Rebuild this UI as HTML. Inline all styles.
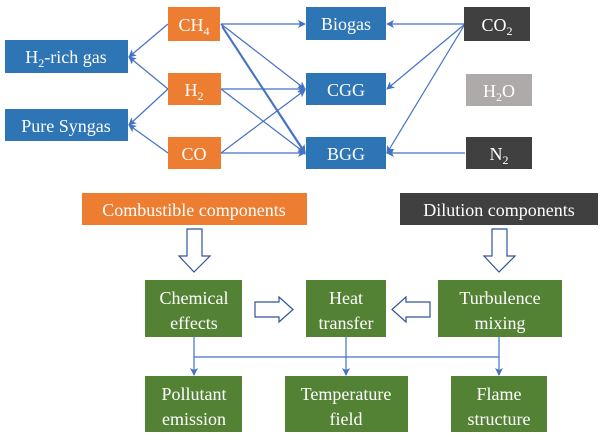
<!DOCTYPE html>
<html><head><meta charset="utf-8"><style>
body{margin:0;background:#fff;}
.t text{font-family:"Liberation Serif","Times New Roman","DejaVu Serif",serif;}
</style></head><body>
<svg width="600" height="441" viewBox="0 0 600 441" xmlns="http://www.w3.org/2000/svg">
<defs>
<marker id="a" markerWidth="8" markerHeight="8" refX="7" refY="4" orient="auto" markerUnits="userSpaceOnUse">
<path d="M0,0 L8,4 L0,8 L2,4 Z" fill="#4472C4"/></marker>
</defs>
<g stroke="#4472C4" stroke-width="1.2" fill="none" marker-end="url(#a)">
<line x1="168" y1="24" x2="129" y2="57"/>
<line x1="168" y1="89" x2="129" y2="57"/>
<line x1="168" y1="89" x2="129" y2="125"/>
<line x1="168" y1="153" x2="129" y2="125"/>
<line x1="221" y1="24" x2="305" y2="24"/>
<line x1="221" y1="24" x2="305" y2="89"/>
<line x1="221" y1="24" x2="305" y2="152"/>
<line x1="222" y1="27" x2="305" y2="154"/>
<line x1="221" y1="89" x2="305" y2="89"/>
<line x1="221" y1="89" x2="305" y2="153"/>
<line x1="221" y1="153" x2="305" y2="90"/>
<line x1="221" y1="153" x2="305" y2="153"/>
<line x1="465" y1="24" x2="387" y2="24"/>
<line x1="465" y1="24" x2="387" y2="89"/>
<line x1="465" y1="24" x2="387" y2="153"/>
<line x1="465" y1="153" x2="387" y2="153"/>
<line x1="194" y1="337" x2="194" y2="375"/>
<line x1="346" y1="337" x2="346" y2="375"/>
<line x1="499" y1="337" x2="499" y2="375"/>
</g>
<line x1="194" y1="357" x2="499" y2="357" stroke="#4472C4" stroke-width="1.2"/>
<g stroke="none">
<rect x="168" y="7" width="52" height="34" fill="#ED7D31"/>
<rect x="168" y="73" width="53" height="32" fill="#ED7D31"/>
<rect x="168" y="137" width="53" height="32" fill="#ED7D31"/>
<rect x="306" y="7" width="80" height="33" fill="#2E75B6"/>
<rect x="306" y="73" width="80" height="32" fill="#2E75B6"/>
<rect x="306" y="137" width="80" height="32" fill="#2E75B6"/>
<rect x="5" y="40" width="123" height="33" fill="#2E75B6"/>
<rect x="5" y="109" width="123" height="32" fill="#2E75B6"/>
<rect x="464" y="7" width="66" height="34" fill="#404040"/>
<rect x="466" y="74" width="66" height="32" fill="#AEAAAA"/>
<rect x="466" y="137" width="66" height="32" fill="#404040"/>
<rect x="82" y="193" width="225" height="32" fill="#ED7D31"/>
<rect x="400" y="193" width="198" height="32" fill="#404040"/>
<rect x="145" y="280" width="97" height="57" fill="#548235"/>
<rect x="306" y="280" width="80" height="57" fill="#548235"/>
<rect x="438" y="280" width="124" height="57" fill="#548235"/>
<rect x="145" y="376" width="97" height="56" fill="#548235"/>
<rect x="285" y="376" width="123" height="56" fill="#548235"/>
<rect x="451" y="376" width="96" height="56" fill="#548235"/>
</g>
<g fill="#fff" stroke="#2F5597" stroke-width="1.2">
<path d="M187,229 H202 V256 H210 L194,272 L179,256 H187 Z"/>
<path d="M492,229 H507 V256 H515 L499,272 L484,256 H492 Z"/>
<path d="M255,302 H279 V297 L293,309.5 L279,322 V317 H255 Z"/>
<path d="M430,302 H406 V297 L392,309.5 L406,322 V317 H430 Z"/>
</g>
<g class="t" font-size="18" fill="#fff" text-anchor="middle">
<text x="194" y="31">CH<tspan font-size="12" dy="4">4</tspan></text>
<text x="194" y="96">H<tspan font-size="12" dy="4">2</tspan></text>
<text x="194" y="160">CO</text>
<text x="346" y="30">Biogas</text>
<text x="346" y="96">CGG</text>
<text x="346" y="160">BGG</text>
<text x="66" y="63">H<tspan font-size="12" dy="4">2</tspan><tspan dy="-4">-rich gas</tspan></text>
<text x="66" y="132">Pure Syngas</text>
<text x="497" y="31">CO<tspan font-size="12" dy="4">2</tspan></text>
<text x="499" y="97">H<tspan font-size="12" dy="4">2</tspan><tspan dy="-4">O</tspan></text>
<text x="499" y="160">N<tspan font-size="12" dy="4">2</tspan></text>
<text x="194" y="216">Combustible components</text>
<text x="499" y="216">Dilution components</text>
<text x="194" y="304">Chemical</text><text x="194" y="329">effects</text>
<text x="346" y="304">Heat</text><text x="346" y="329">transfer</text>
<text x="500" y="304">Turbulence</text><text x="500" y="329">mixing</text>
<text x="194" y="400">Pollutant</text><text x="194" y="425">emission</text>
<text x="346" y="400">Temperature</text><text x="346" y="425">field</text>
<text x="499" y="400">Flame</text><text x="499" y="425">structure</text>
</g>
</svg>
</body></html>
